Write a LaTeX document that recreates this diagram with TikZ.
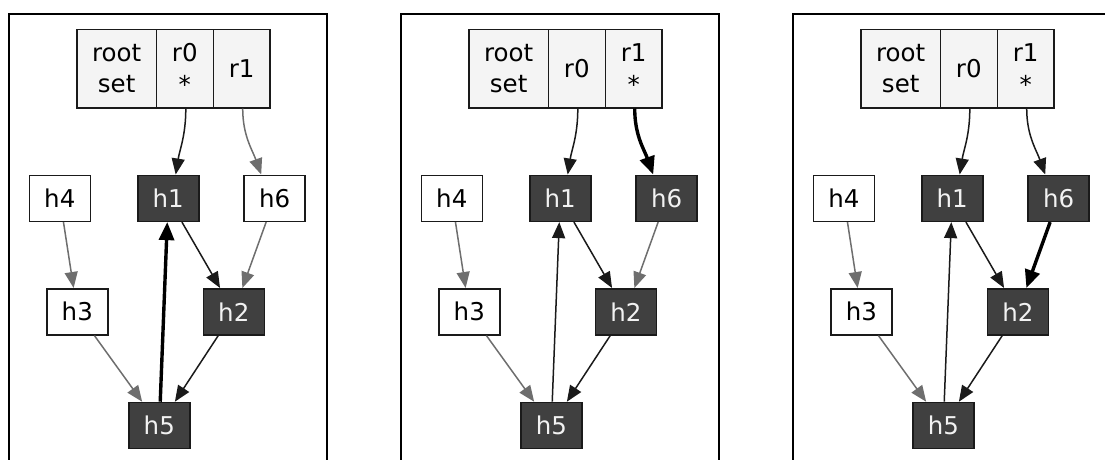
\documentclass[tikz,border=0pt]{standalone}
\usepackage{fontspec}
\setmainfont{DejaVu Sans}
\usetikzlibrary{arrows.meta}
\definecolor{darkfill}{HTML}{404040}
\definecolor{recfill}{HTML}{F4F4F4}
\definecolor{edgegray}{HTML}{6E6E6E}
\definecolor{edgeblack}{HTML}{1A1A1A}
\definecolor{lighttext}{HTML}{F2F2F2}
\tikzset{
  every node/.style={font=\fontsize{24.5}{31.5}\selectfont},
  leaf/.style={draw=edgeblack, line width=1.6pt, fill=white, minimum width=61pt, minimum height=46pt, inner sep=0pt, text=black},
  marked/.style={leaf, fill=darkfill, text=lighttext},
  cell/.style={draw=edgeblack, line width=1.6pt, fill=recfill, minimum height=78.4pt, inner sep=0pt, align=center},
  grayedge/.style={draw=edgegray, line width=1.5pt, -{Triangle[length=16pt,width=13pt]}},
  blackedge/.style={draw=edgeblack, line width=1.5pt, -{Triangle[length=16pt,width=13pt]}},
  thickedge/.style={draw=black, line width=3.4pt, -{Triangle[length=18pt,width=15pt]}},
  panelframe/.style={draw=black, line width=1.7pt},
}
\begin{document}
\begin{tikzpicture}[x=1pt,y=-1pt]
\useasboundingbox (0,0) rectangle (1105,459);
\clip (0,0) rectangle (1105,459);

% ---------- panel 1 ----------
\begin{scope}
\draw[panelframe] (9,470) -- (9,14) -- (327,14) -- (327,470);
\node[cell, minimum width=79.3pt] (a-root) at (116.7,68.5) {root\\set};
\node[cell, minimum width=57pt] (a-r0) at (184.8,68.5) {r0\\*};
\node[cell, minimum width=56.7pt] (a-r1) at (241.7,68.5) {r1};
\node[leaf] (a-h4) at (59.8,198.3) {h4};
\node[marked] (a-h1) at (168.2,198.3) {h1};
\node[leaf] (a-h6) at (274.7,198.3) {h6};
\node[leaf] (a-h3) at (77.3,311.8) {h3};
\node[marked] (a-h2) at (233.8,311.8) {h2};
\node[marked] (a-h5) at (159.3,425.5) {h5};
\draw[blackedge] ([xshift=1pt]a-r0.south) .. controls +(0,27) and +(4,-25) .. ([xshift=7.5pt]a-h1.north);
\draw[grayedge] ([xshift=1pt]a-r1.south) .. controls +(0,27) and +(-9,-25) .. ([xshift=-13.5pt]a-h6.north);
\draw[grayedge] (a-h4) -- (a-h3);
\draw[blackedge] (a-h1) -- (a-h2);
\draw[grayedge] (a-h6) -- (a-h2);
\draw[grayedge] (a-h3) -- (a-h5);
\draw[blackedge] (a-h2) -- (a-h5);
\draw[thickedge] (a-h5) -- (a-h1);
\end{scope}

% ---------- panel 2 ----------
\begin{scope}[xshift=392pt]
\draw[panelframe] (9,470) -- (9,14) -- (327,14) -- (327,470);
\node[cell, minimum width=79.3pt] (b-root) at (116.7,68.5) {root\\set};
\node[cell, minimum width=57pt] (b-r0) at (184.8,68.5) {r0};
\node[cell, minimum width=56.7pt] (b-r1) at (241.7,68.5) {r1\\*};
\node[leaf] (b-h4) at (59.8,198.3) {h4};
\node[marked] (b-h1) at (168.2,198.3) {h1};
\node[marked] (b-h6) at (274.7,198.3) {h6};
\node[leaf] (b-h3) at (77.3,311.8) {h3};
\node[marked] (b-h2) at (233.8,311.8) {h2};
\node[marked] (b-h5) at (159.3,425.5) {h5};
\draw[blackedge] ([xshift=1pt]b-r0.south) .. controls +(0,27) and +(4,-25) .. ([xshift=7.5pt]b-h1.north);
\draw[thickedge] ([xshift=1pt]b-r1.south) .. controls +(0,27) and +(-9,-25) .. ([xshift=-13.5pt]b-h6.north);
\draw[grayedge] (b-h4) -- (b-h3);
\draw[blackedge] (b-h1) -- (b-h2);
\draw[grayedge] (b-h6) -- (b-h2);
\draw[grayedge] (b-h3) -- (b-h5);
\draw[blackedge] (b-h2) -- (b-h5);
\draw[blackedge] (b-h5) -- (b-h1);
\end{scope}

% ---------- panel 3 ----------
\begin{scope}[xshift=784pt]
\draw[panelframe] (9,470) -- (9,14) -- (327,14) -- (327,470);
\node[cell, minimum width=79.3pt] (c-root) at (116.7,68.5) {root\\set};
\node[cell, minimum width=57pt] (c-r0) at (184.8,68.5) {r0};
\node[cell, minimum width=56.7pt] (c-r1) at (241.7,68.5) {r1\\*};
\node[leaf] (c-h4) at (59.8,198.3) {h4};
\node[marked] (c-h1) at (168.2,198.3) {h1};
\node[marked] (c-h6) at (274.7,198.3) {h6};
\node[leaf] (c-h3) at (77.3,311.8) {h3};
\node[marked] (c-h2) at (233.8,311.8) {h2};
\node[marked] (c-h5) at (159.3,425.5) {h5};
\draw[blackedge] ([xshift=1pt]c-r0.south) .. controls +(0,27) and +(4,-25) .. ([xshift=7.5pt]c-h1.north);
\draw[blackedge] ([xshift=1pt]c-r1.south) .. controls +(0,27) and +(-9,-25) .. ([xshift=-13.5pt]c-h6.north);
\draw[grayedge] (c-h4) -- (c-h3);
\draw[blackedge] (c-h1) -- (c-h2);
\draw[thickedge] (c-h6) -- (c-h2);
\draw[grayedge] (c-h3) -- (c-h5);
\draw[blackedge] (c-h2) -- (c-h5);
\draw[blackedge] (c-h5) -- (c-h1);
\end{scope}
\end{tikzpicture}
\end{document}
